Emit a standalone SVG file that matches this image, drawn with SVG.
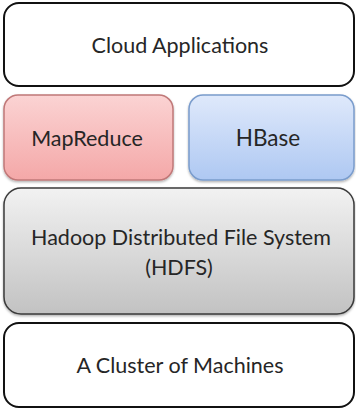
<svg xmlns="http://www.w3.org/2000/svg" width="356" height="410" viewBox="0 0 356 410">
<defs>
<linearGradient id="gRed" x1="0" y1="0" x2="0" y2="1"><stop offset="0" stop-color="#fbd3d3"/><stop offset="1" stop-color="#f4a8a8"/></linearGradient>
<linearGradient id="gBlue" x1="0" y1="0" x2="0" y2="1"><stop offset="0" stop-color="#dfe9fb"/><stop offset="1" stop-color="#aec8f2"/></linearGradient>
<linearGradient id="gGrey" x1="0" y1="0" x2="0" y2="1"><stop offset="0" stop-color="#f2f2f2"/><stop offset="1" stop-color="#c2c2c2"/></linearGradient>
<filter id="sh" x="-5%" y="-5%" width="110%" height="115%"><feDropShadow dx="0" dy="1.5" stdDeviation="1.2" flood-color="#000" flood-opacity="0.3"/></filter>
</defs>
<style>
.lbl{font-family:Lato,"Open Sans","Liberation Sans",sans-serif;font-size:21.5px;fill:#262626;text-anchor:middle}
.plain{fill:#ffffff;stroke:#111111;stroke-width:2}
</style>
<rect width="356" height="410" fill="#ffffff"/>
<g id="cloud-applications">
<rect class="plain" x="4" y="3" width="350" height="83" rx="15"/>
<text class="lbl" x="180" y="53">Cloud Applications</text>
</g>
<g id="mapreduce">
<rect x="4" y="95" width="169" height="85" rx="14" fill="url(#gRed)" stroke="#c07878" stroke-width="1.5" filter="url(#sh)"/>
<text class="lbl" x="87" y="146">MapReduce</text>
</g>
<g id="hbase">
<rect x="189" y="95" width="165" height="85" rx="14" fill="url(#gBlue)" stroke="#7a9ccc" stroke-width="1.5" filter="url(#sh)"/>
<text class="lbl" x="268" y="146" style="font-size:22.5px">HBase</text>
</g>
<g id="hdfs">
<rect x="4" y="188" width="350" height="126" rx="17" fill="url(#gGrey)" stroke="#3a3a3a" stroke-width="1.5" filter="url(#sh)"/>
<text class="lbl" x="181" y="245">Hadoop Distributed File System</text>
<text class="lbl" x="179" y="275">(HDFS)</text>
</g>
<g id="cluster">
<rect class="plain" x="4" y="323" width="350" height="84" rx="15"/>
<text class="lbl" x="180" y="373">A Cluster of Machines</text>
</g>
<g id="connectors"/>
</svg>
